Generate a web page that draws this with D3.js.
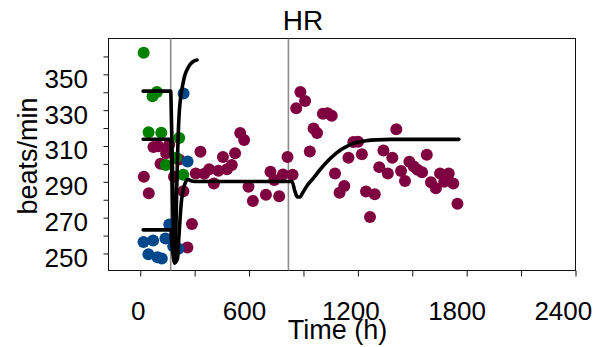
<!DOCTYPE html>
<html>
<head>
<meta charset="utf-8">
<script src="https://cdn.jsdelivr.net/npm/d3@7"></script>
<style>
  html, body { margin: 0; padding: 0; background: #fff; }
  svg { display: block; font-family: "Liberation Sans", Arial, sans-serif; }
</style>
</head>
<body>
<script>
// Heart rate (beats/min) over time (h) by group, with model fits.
const chartTitle = "HR";
const xTitle = "Time (h)";
const yTitle = "beats/min";

// Observations: [time (h), beats/min]
const groupMaroon = [
  [20,292.8],[47,283.6],[73,309.4],[100,309.8],[143,305.9],[112,300.1],[160,310.8],
  [186,292.8],[214,302.4],[238,284.8],[285,266.4],[260,253.3],[332,306.8],[306,294.7],
  [353,294.5],[380,297.0],[406,289.0],[431,296.2],[478,297.0],[505,299.4],[456,303.8],
  [523,305.9],[551,317.3],[573,313.3],[597,287.3],[621,279.3],[693,282.8],[766,281.9],
  [718,295.6],[739,291.0],[787,294.1],[840,294.0],[812,303.8],[860,331.1],[883,340.2],
  [909,335.1],[935,306.9],[956,319.8],[975,317.3],[1007,328.0],[1033,328.3],[1056,326.9],
  [1074,294.6],[1099,283.9],[1125,287.7],[1148,303.4],[1175,312.2],[1201,312.4],
  [1222,305.4],[1245,284.6],[1293,283.1],[1267,270.3],[1318,298.2],[1341,307.5],
  [1365,294.7],[1390,303.4],[1412,319.3],[1438,296.0],[1460,290.5],[1484,301.2],
  [1508,298.6],[1529,296.7],[1554,295.3],[1580,305.1],[1603,289.8],[1630,286.4],
  [1653,294.7],[1676,290.1],[1701,294.7],[1726,289.0],[1749,277.7]
];
const groupBlue = [
  [239,339.3],[261,301.3],[160,266.2],[18,256.4],[71,257.2],[139,258.3],
  [45,249.6],[95,247.9],[119,247.2],[211,252.6],[182,254.0]
];
const groupGreen = [
  [19,362.0],[92,340.2],[68,337.8],[46,317.7],[116,317.4],[215,314.4],
  [141,299.4],[237,294.0],[198,303.5]
];

// Model fits: [time (h), beats/min]
const fitHigh = [
  [16,340.6],[168,340.6],[172,325],[177,302],[182,275],[186,255],[190,244.8],
  [195,256],[200,280],[205,302],[210,318],[216,330],[224,338],[234,344],
  [246,349.5],[260,353],[275,355.5],[292,357.2],[313,358]
];
const fitMid = [
  [16,313.8],[168,313.8],[173,300],[178,282],[183,264],[187,250],[190,244.8],
  [198,245.5],[206,247.5],[213,259],[220,270],[227,279],[235,284.5],[245,288.5],
  [256,290.8],[266,291.2],[280,290.6],[300,290.2],[837,290.2],[852,285],
  [866,281.6],[880,281.5],[898,284.3],[925,288.6],[956,292.2],[990,296.6],
  [1030,301.2],[1070,305],[1104,307.7],[1140,309.8],[1170,311.3],[1210,312.4],
  [1251,313],[1300,313.4],[1380,313.7],[1757,313.7]
];
const fitLow = [
  [16,263.2],[168,263.2],[174,256],[180,250],[186,246],[190,244.8]
];

// Event markers (h)
const eventTimes = [168, 817];

// Axis ticks
const xTickMarks = [0, 300, 600, 900, 1200, 1500, 1800, 2100, 2400];
const xTickLabels = [0, 600, 1200, 1800, 2400];
const yTickMarks = [250, 260, 270, 280, 290, 300, 310, 320, 330, 340, 350, 360];
const yTickLabels = [250, 270, 290, 310, 330, 350];

const colors = { maroon: "#7f0040", blue: "#00478c", green: "#008200" };

const W = 611, H = 347;
const svg = d3.select("body").append("svg").attr("width", W).attr("height", H);

const x = d3.scaleLinear().domain([-175, 2400]).range([108.5, 575.5]);
const y = d3.scaleLinear().domain([240.5, 370]).range([270.5, 38.5]);
// tick labels sit on a slightly narrower spread than the tick marks
const xLabel = d3.scaleLinear().domain([0, 2400]).range([138.3, 563.3]);

// plot frame
svg.append("rect")
  .attr("x", x.range()[0]).attr("y", y.range()[1])
  .attr("width", x.range()[1] - x.range()[0])
  .attr("height", y.range()[0] - y.range()[1])
  .attr("fill", "none").attr("stroke", "#111").attr("stroke-width", 1);

// tick marks
const gx = svg.append("g").attr("transform", `translate(0,${y.range()[0]})`)
  .call(d3.axisBottom(x).tickValues(xTickMarks).tickSize(6).tickFormat(""));
gx.select(".domain").remove();
gx.selectAll("line").attr("stroke", "#111");

const gy = svg.append("g").attr("transform", `translate(${x.range()[0]},0)`)
  .call(d3.axisLeft(y).tickValues(yTickMarks).tickSize(5).tickFormat(""));
gy.select(".domain").remove();
gy.selectAll("line").attr("stroke", "#111");

// tick labels
svg.append("g").selectAll("text").data(xTickLabels).join("text")
  .attr("x", d => xLabel(d)).attr("y", 320)
  .attr("text-anchor", "middle").attr("font-size", 26).attr("fill", "#000")
  .text(d => d);

svg.append("g").selectAll("text").data(yTickLabels).join("text")
  .attr("x", 88).attr("y", d => y(d) + 13.5)
  .attr("text-anchor", "end").attr("font-size", 26).attr("fill", "#000")
  .text(d => d);

// titles
svg.append("text").attr("x", 303).attr("y", 30)
  .attr("text-anchor", "middle").attr("font-size", 28).text(chartTitle);
svg.append("text").attr("x", 337.5).attr("y", 338.5)
  .attr("text-anchor", "middle").attr("font-size", 27).text(xTitle);
svg.append("text").attr("transform", "translate(37,156) rotate(-90)")
  .attr("text-anchor", "middle").attr("font-size", 27).text(yTitle);

// event lines
svg.append("g").selectAll("line").data(eventTimes).join("line")
  .attr("x1", d => x(d)).attr("x2", d => x(d))
  .attr("y1", y.range()[1]).attr("y2", y.range()[0])
  .attr("stroke", "#8c8c8c").attr("stroke-width", 1.6);

// observations
const drawPoints = (data, color) => svg.append("g").selectAll("circle").data(data).join("circle")
  .attr("cx", d => x(d[0])).attr("cy", d => y(d[1])).attr("r", 6).attr("fill", color);
drawPoints(groupMaroon, colors.maroon);
drawPoints(groupBlue, colors.blue);
drawPoints(groupGreen, colors.green);

// fits
const line = d3.line().x(d => x(d[0])).y(d => y(d[1])).curve(d3.curveMonotoneX);
svg.append("g").selectAll("path").data([fitLow, fitMid, fitHigh]).join("path")
  .attr("d", line).attr("fill", "none").attr("stroke", "#000")
  .attr("stroke-width", 3.6).attr("stroke-linejoin", "round").attr("stroke-linecap", "round");
</script>
</body>
</html>
